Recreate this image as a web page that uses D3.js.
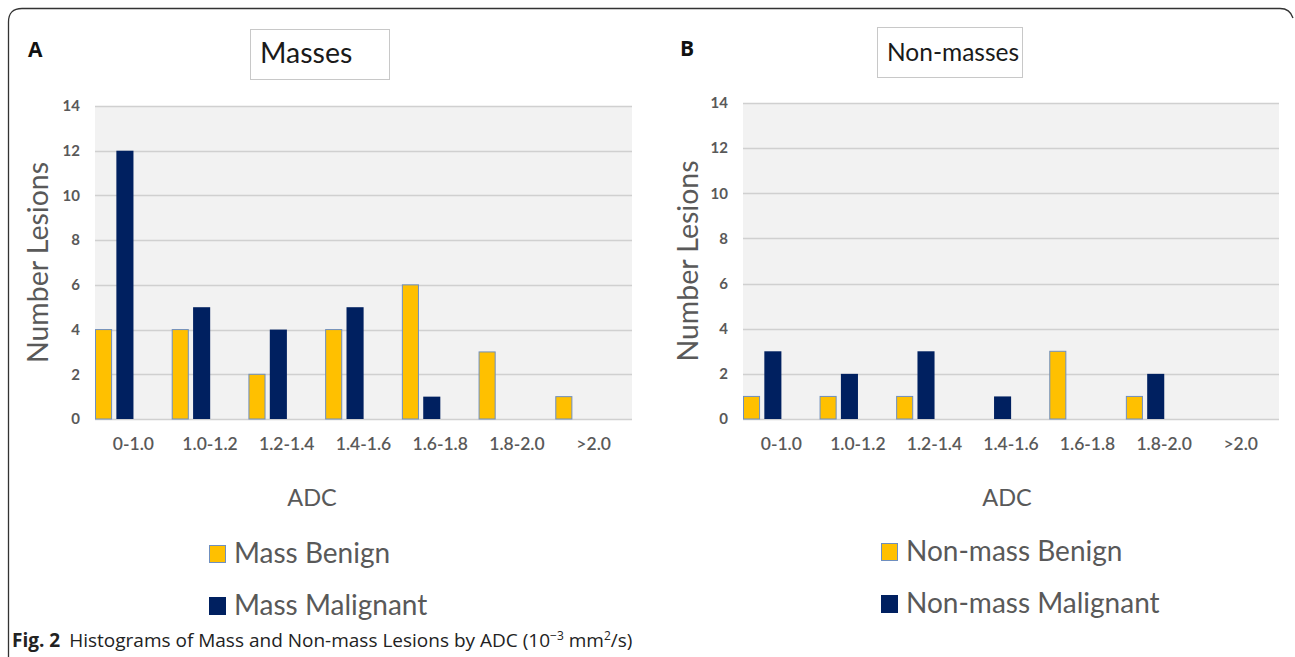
<!DOCTYPE html>
<html>
<head>
<meta charset="utf-8">
<script src="https://cdn.jsdelivr.net/npm/d3@7"></script>
<style>
  html, body { margin: 0; padding: 0; background: #fff; }
  svg { display: block; }
</style>
</head>
<body>
<svg id="chart" width="1295" height="657"></svg>
<script>
// ---- data ----
const categories = ["0-1.0", "1.0-1.2", "1.2-1.4", "1.4-1.6", "1.6-1.8", "1.8-2.0", ">2.0"];
const yTicks = [0, 2, 4, 6, 8, 10, 12, 14];
const massBenign = [4, 4, 2, 4, 6, 3, 1];
const massMalignant = [12, 5, 4, 5, 1, 0, 0];
const nonMassBenign = [1, 1, 1, 0, 3, 1, 0];
const nonMassMalignant = [3, 2, 3, 1, 0, 2, 0];
const seriesKeys = ["benign", "malignant", "spare"];

const COL_BENIGN = "#FFC000";
const COL_MALIG = "#002060";
const TXT = "#595959";
const FONT = "Lato, 'Open Sans', sans-serif";

const svg = d3.select("#chart");

// figure frame (rounded top corners, left side runs down)
svg.append("path")
  .attr("d", "M8.5,657 L8.5,22 Q8.5,8.5 22,8.5 L1280,8.5 Q1290,8.5 1293,18")
  .attr("fill", "none").attr("stroke", "#333").attr("stroke-width", 1.3);

function drawPanel(p) {
  const g = svg.append("g");
  const x = d3.scaleBand().domain(categories).range([p.left, p.right]).paddingInner(0).paddingOuter(0);
  const y = d3.scaleLinear().domain([0, 14]).range([p.bottom, p.top]);
  const x1 = d3.scaleBand().domain(seriesKeys).range([0, x.bandwidth() * 0.78]).paddingInner(0.2).paddingOuter(0);

  // plot background
  g.append("rect").attr("x", p.left).attr("y", p.top).attr("width", p.right - p.left)
    .attr("height", p.bottom - p.top).attr("fill", "#f2f2f2");

  // gridlines
  g.append("g").selectAll("line").data(yTicks).join("line")
    .attr("x1", p.left).attr("x2", p.right)
    .attr("y1", d => Math.round(y(d)) + 0.5).attr("y2", d => Math.round(y(d)) + 0.5)
    .attr("stroke", "#d0d0d0").attr("stroke-width", 1.5);

  // y axis tick labels
  const yAxis = d3.axisLeft(y).tickValues(yTicks).tickSize(0).tickPadding(0);
  const ya = g.append("g").attr("transform", `translate(${p.left - 15},0)`).call(yAxis);
  ya.select(".domain").remove();
  ya.selectAll("text").attr("fill", TXT).attr("font-family", FONT).attr("font-size", 15)
    .attr("font-weight", 700);

  // x axis labels
  const xAxis = d3.axisBottom(x).tickSize(0).tickPadding(0);
  const xa = g.append("g").attr("transform", `translate(0,${p.bottom + 19})`).call(xAxis);
  xa.select(".domain").remove();
  xa.selectAll("text").attr("fill", TXT).attr("font-family", FONT).attr("font-size", 17.5)
    .attr("font-weight", 600);

  // bars
  const rows = categories.map((c, i) => ({ c, benign: p.benign[i], malignant: p.malignant[i] }));
  const grp = g.append("g").selectAll("g").data(rows).join("g")
    .attr("transform", d => `translate(${x(d.c)},0)`);
  grp.append("rect")
    .attr("x", x1("benign") + 0.5).attr("width", x1.bandwidth() - 1)
    .attr("y", d => y(d.benign)).attr("height", d => y(0) - y(d.benign))
    .attr("fill", COL_BENIGN).attr("stroke", "#6f8fbf").attr("stroke-width", 1)
    .attr("display", d => d.benign > 0 ? null : "none");
  grp.append("rect")
    .attr("x", x1("malignant")).attr("width", x1.bandwidth())
    .attr("y", d => y(d.malignant)).attr("height", d => y(0) - y(d.malignant))
    .attr("fill", COL_MALIG)
    .attr("display", d => d.malignant > 0 ? null : "none");

  // panel letter
  g.append("text").attr("x", p.letterX).attr("y", p.letterY).text(p.letter)
    .attr("font-family", "'Open Sans', sans-serif").attr("font-weight", 700).attr("font-size", 21).attr("fill", "#111");

  // title box
  g.append("rect").attr("x", p.boxX + 0.5).attr("y", p.boxY + 0.5).attr("width", p.boxW).attr("height", 50)
    .attr("fill", "#fff").attr("stroke", "#c8c8c8").attr("stroke-width", 1);
  g.append("text").attr("x", p.boxX + 10).attr("y", p.boxY + 34).text(p.title)
    .attr("font-family", FONT).attr("font-size", p.titleSize).attr("fill", "#1a1a1a");

  // y axis title
  g.append("text").attr("transform", `translate(${p.yTitleX},${(p.top + p.bottom) / 2}) rotate(-90)`)
    .attr("text-anchor", "middle").attr("dominant-baseline", "central").text("Number Lesions")
    .attr("font-family", FONT).attr("font-size", 28.5).attr("fill", TXT);

  // x axis title
  g.append("text").attr("x", p.adcX).attr("y", 506).attr("text-anchor", "middle").text("ADC")
    .attr("font-family", FONT).attr("font-size", 23.5).attr("fill", TXT);

  // legend
  const leg = [{ label: p.legend[0], color: COL_BENIGN, stroke: "#6f8fbf" },
               { label: p.legend[1], color: COL_MALIG, stroke: COL_MALIG }];
  const lg = g.append("g").selectAll("g").data(leg).join("g")
    .attr("transform", (d, i) => `translate(${p.legX},${p.legY + i * 52})`);
  lg.append("rect").attr("x", 0.5).attr("y", -16.5).attr("width", 16).attr("height", 17)
    .attr("fill", d => d.color).attr("stroke", d => d.stroke);
  lg.append("text").attr("x", 25).attr("y", 1).text(d => d.label)
    .attr("font-family", FONT).attr("font-size", 28).attr("fill", TXT);
}

drawPanel({
  left: 95, right: 632, top: 106, bottom: 419,
  benign: massBenign, malignant: massMalignant,
  letter: "A", letterX: 28, letterY: 57,
  title: "Masses", titleSize: 28.5, boxX: 250, boxY: 29, boxW: 139,
  yTitleX: 37, adcX: 312, legX: 209, legY: 562,
  legend: ["Mass Benign", "Mass Malignant"]
});

drawPanel({
  left: 743, right: 1279, top: 103, bottom: 419,
  benign: nonMassBenign, malignant: nonMassMalignant,
  letter: "B", letterX: 680, letterY: 56,
  title: "Non-masses", titleSize: 24.5, boxX: 877, boxY: 27, boxW: 145,
  yTitleX: 687, adcX: 1007, legX: 881, legY: 560,
  legend: ["Non-mass Benign", "Non-mass Malignant"]
});

// caption
const cap = svg.append("text").attr("x", 12).attr("y", 647)
  .attr("font-family", "'Open Sans', sans-serif").attr("font-size", 19).attr("fill", "#222");
cap.append("tspan").attr("font-weight", 700).text("Fig. 2");
cap.append("tspan").attr("dx", 9).text("Histograms of Mass and Non-mass Lesions by ADC (10");
cap.append("tspan").attr("dy", -7).attr("font-size", 12).text("\u22123");
cap.append("tspan").attr("dy", 7).text(" mm");
cap.append("tspan").attr("dy", -7).attr("font-size", 12).text("2");
cap.append("tspan").attr("dy", 7).text("/s)");
</script>
</body>
</html>
